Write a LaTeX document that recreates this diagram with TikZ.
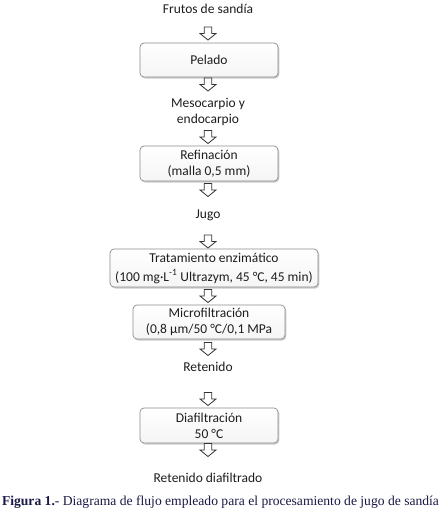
\documentclass[tikz,border=0pt]{standalone}
\usepackage{fontspec}
\setmainfont{Carlito}
\newfontfamily\capfont{Liberation Serif}
\usetikzlibrary{shadows}
\definecolor{txt}{RGB}{30,30,30}
\definecolor{bord}{RGB}{140,140,140}
\definecolor{capc}{RGB}{25,25,70}
\tikzset{
  lbl/.style={font=\fontsize{13.5}{16}\selectfont, text=txt, align=center, inner sep=0pt},
  procbox/.style={draw=bord, line width=0.7pt, rounded corners=4pt, top color=white, bottom color=black!4,
    drop shadow={shadow xshift=1.3pt, shadow yshift=-1.5pt, fill=black!45, opacity=0.45},
    font=\fontsize{13.5}{16}\selectfont, text=txt, align=center, inner sep=0pt},
  barrowline/.style={draw=black!80, line width=0.8pt, fill=white, line join=miter},
  pics/blockarrow/.style={code={
    \path[barrowline] (-3.8,-6.5) -- (3.8,-6.5) -- (3.8,0) -- (8,0) -- (0,6.5) -- (-8,0) -- (-3.8,0) -- cycle;
  }}
}
\begin{document}
\begin{tikzpicture}[x=1pt,y=-1pt]
\useasboundingbox (0,0) rectangle (441,515);
\fill[white] (0,0) rectangle (441,515);
\node[lbl] (t0) at (208,9) {Frutos de sandía};
\coordinate (a1) at (208,33.5); \pic at (a1) {blockarrow};
\node[procbox, minimum width=138pt, minimum height=34pt] (b1) at (209,60) {Pelado};
\coordinate (a2) at (208,84.5); \pic at (a2) {blockarrow};
\node[lbl] (t2) at (208,111.5) {Mesocarpio y\\endocarpio};
\coordinate (a3) at (208,137); \pic at (a3) {blockarrow};
\node[procbox, minimum width=138pt, minimum height=35pt] (b3) at (209,163.5) {Refinación\\(malla 0,5 mm)};
\coordinate (a4) at (208,190); \pic at (a4) {blockarrow};
\node[lbl] (t4) at (208,215) {Jugo};
\coordinate (a5) at (208,241.5); \pic at (a5) {blockarrow};
\node[procbox, minimum width=208pt, minimum height=38pt] (b5) at (214,268) {Tratamiento enzimático\\[3pt](100 mg·L\textsuperscript{-1} Ultrazym, 45 °C, 45 min)};
\coordinate (a6) at (208,296); \pic at (a6) {blockarrow};
\node[procbox, minimum width=152pt, minimum height=34pt] (b6) at (209,322) {Microfiltración\\(0,8 µm/50 °C/0,1 MPa};
\coordinate (a7) at (208,349); \pic at (a7) {blockarrow};
\node[lbl] (t7) at (208,367) {Retenido};
\coordinate (a8) at (208,399); \pic at (a8) {blockarrow};
\node[procbox, minimum width=138pt, minimum height=35pt] (b8) at (209,425.5) {Diafiltración\\50 °C};
\coordinate (a9) at (208,450); \pic at (a9) {blockarrow};
\node[lbl] (t9) at (208,478) {Retenido diafiltrado};
\node[font=\capfont\fontsize{13.6}{15}\selectfont, text=capc, inner sep=0pt] (cap) at (220.5,502)
  {\textbf{Figura 1.}- Diagrama de flujo empleado para el procesamiento de jugo de sandía};
\end{tikzpicture}
\end{document}
